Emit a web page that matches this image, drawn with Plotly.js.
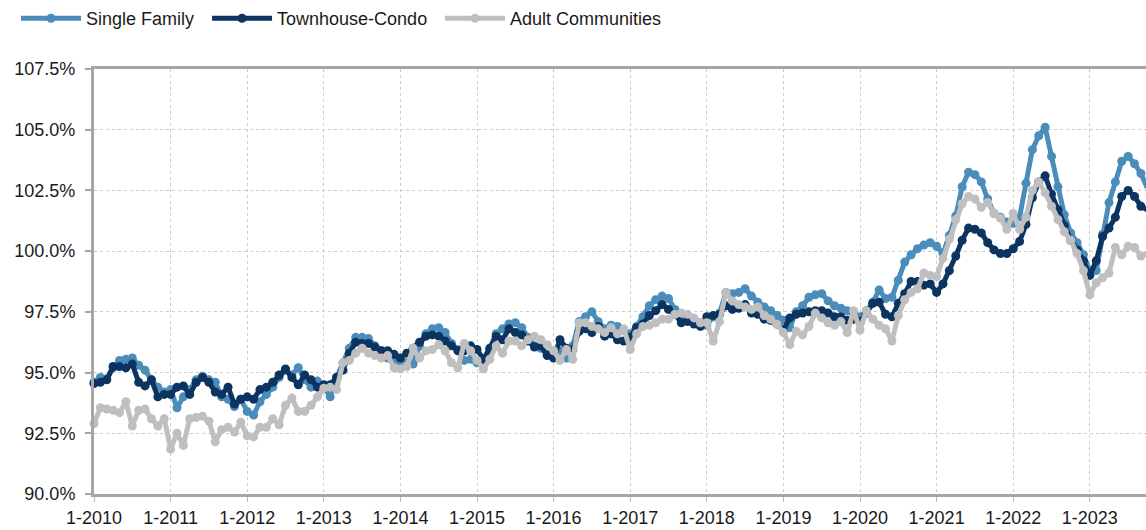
<!DOCTYPE html>
<html>
<head>
<meta charset="utf-8">
<script src="https://cdn.plot.ly/plotly-3.0.1.min.js"></script>
<style>html,body{margin:0;padding:0;background:#fff;}#chart{width:1146px;height:530px;}</style>
</head>
<body>
<div id="chart"></div>
<script>
// Monthly series, Jan-2010 onwards (index 0 = 1-2010)
const singleFamily = [
  94.6, 94.8, 94.75, 95.2, 95.5, 95.55, 95.6, 95.3, 95.1, 94.7, 94.4, 94.2,
  94.3, 93.55, 94.0, 94.3, 94.7, 94.85, 94.7, 94.6, 94.0, 93.9, 93.6, 93.9,
  93.4, 93.25, 93.8, 94.1, 94.4, 94.8, 95.1, 94.9, 95.2, 94.7, 94.4, 94.65,
  94.4, 94.0, 94.8, 95.4, 96.0, 96.45, 96.45, 96.4, 96.1, 95.9, 95.6, 95.5,
  95.45, 95.4, 95.35, 96.1, 96.6, 96.8, 96.85, 96.65, 96.2, 95.95, 95.5, 95.55,
  95.4, 95.4, 95.95, 96.6, 96.8, 97.0, 97.05, 96.85, 96.45, 96.1, 96.0, 95.75,
  95.75, 95.9, 95.6, 96.1, 97.1, 97.3, 97.5, 97.1, 96.8, 96.95, 96.9, 96.75,
  96.6, 96.9, 97.3, 97.75, 98.0, 98.15, 98.05, 97.6, 97.35, 97.2, 97.15, 97.05,
  96.95, 97.3, 97.45, 98.3, 98.25, 98.3, 98.45, 98.15, 97.9, 97.7, 97.55, 97.35,
  97.15, 96.85, 97.5, 97.75, 98.1, 98.2, 98.25, 97.95, 97.75, 97.65, 97.55, 97.4,
  97.3, 97.55, 97.9, 98.4, 98.05, 98.1, 98.8, 99.55, 99.85, 100.1, 100.25, 100.35,
  100.2, 99.9, 100.65, 101.45, 102.65, 103.25, 103.15, 102.85, 102.15, 101.55, 101.4, 101.2,
  101.15, 101.4, 102.8, 104.18, 104.75, 105.1, 103.9, 102.65, 101.5, 100.75, 100.35, 99.85,
  99.2, 99.2, 100.7, 102.0, 102.85, 103.7, 103.9, 103.6, 103.2, 102.6
];
const townhouseCondo = [
  94.55, 94.6, 94.7, 95.25, 95.25, 95.2, 95.35, 94.6, 94.45, 94.7, 94.0, 94.1,
  94.1, 94.4, 94.45, 94.1, 94.6, 94.8, 94.6, 94.2, 94.1, 94.4, 93.7, 93.9,
  94.0, 93.9, 94.3, 94.4, 94.6, 94.9, 95.15, 94.8, 94.5, 94.9, 94.7, 94.4,
  94.5, 94.5, 94.8, 95.1, 95.8, 96.25, 96.2, 96.2, 96.05, 95.9, 95.9, 95.75,
  95.6, 95.8, 96.0, 96.25, 96.5, 96.55, 96.5, 96.3, 96.1, 95.9, 95.9, 96.1,
  95.95, 95.55, 96.0, 96.5, 96.35, 96.8, 96.65, 96.55, 96.3, 96.05, 96.1, 95.7,
  95.6, 96.35, 96.0, 95.95, 96.7, 96.8, 96.65, 96.9, 96.5, 96.6, 96.35, 96.3,
  96.45, 96.85, 97.0, 97.35, 97.55, 97.8, 97.6, 97.4, 97.05, 97.1, 97.0, 96.9,
  97.3, 97.35, 97.4, 97.75, 97.6, 97.65, 97.8, 97.45, 97.4, 97.2, 97.15, 97.0,
  96.75, 97.25, 97.4, 97.45, 97.5, 97.55, 97.55, 97.45, 97.3, 97.3, 97.15, 97.2,
  97.1, 97.45, 97.85, 97.9, 97.4, 97.3, 97.85, 98.25, 98.75, 98.75, 98.6, 98.65,
  98.3, 98.65, 99.2, 99.8, 100.45, 100.95, 100.9, 100.75, 100.35, 100.05, 99.9, 99.9,
  100.1, 100.4, 101.1, 102.2, 102.85, 103.1, 102.35, 101.7, 101.05, 100.45, 100.05, 99.6,
  99.0, 99.6, 100.6, 100.95, 101.4, 102.25, 102.5, 102.25, 101.85, 101.7
];
const adultCommunities = [
  92.9, 93.55, 93.5, 93.45, 93.35, 93.8, 92.8, 93.45, 93.5, 93.1, 92.8, 93.1,
  91.85, 92.5, 92.0, 93.1, 93.15, 93.2, 93.0, 92.15, 92.65, 92.75, 92.55, 92.95,
  92.4, 92.35, 92.75, 92.75, 93.1, 92.85, 93.65, 93.95, 93.4, 93.4, 93.65, 94.0,
  94.35, 94.4, 94.3, 95.4, 95.5, 95.8, 96.0, 95.8, 95.7, 95.6, 95.7, 95.2,
  95.15, 95.25, 96.0, 95.6, 95.9, 95.95, 96.15, 95.9, 95.4, 95.2, 96.2, 95.9,
  95.5, 95.15, 95.55, 96.1, 95.8, 96.3, 96.3, 96.1, 96.35, 96.5, 96.35, 96.15,
  95.9, 95.5, 95.95, 95.55, 97.05, 97.05, 96.9, 96.8, 96.65, 96.85, 96.6, 96.8,
  95.95, 96.6, 96.9, 96.95, 97.05, 97.2, 97.2, 97.4, 97.45, 97.4, 97.25, 97.05,
  97.05, 96.3, 97.1, 98.3, 97.95, 97.8, 97.7, 97.6, 97.7, 97.35, 97.2, 97.0,
  96.65, 96.15, 96.7, 96.55, 96.9, 97.45, 97.25, 97.05, 96.95, 97.1, 96.65, 97.55,
  96.75, 97.55, 97.2, 96.95, 96.8, 96.3, 97.35, 98.0, 98.3, 98.45, 99.1, 99.0,
  98.95, 99.7, 100.5, 101.3, 101.95, 102.25, 102.15, 101.8, 102.0, 101.55, 101.35, 100.9,
  101.55, 100.9, 101.4, 102.5, 102.85, 102.4, 101.85, 101.3, 100.8, 100.45, 99.9, 99.2,
  98.2, 98.7, 98.9, 99.1, 100.15, 99.85, 100.2, 100.15, 99.8, 99.9
];
const yearLabels = ['1-2010','1-2011','1-2012','1-2013','1-2014','1-2015','1-2016',
                    '1-2017','1-2018','1-2019','1-2020','1-2021','1-2022','1-2023'];
const yTicks = [90, 92.5, 95, 97.5, 100, 102.5, 105, 107.5];

const monthIndex = singleFamily.map((_, i) => i);
const yearTickVals = yearLabels.map((_, i) => i * 12);

const FONT = 'Liberation Sans, Arial, Helvetica, sans-serif';
function series(name, vals, color, lw) {
  return {
    type: 'scatter', mode: 'lines+markers', name: name,
    x: monthIndex, y: vals,
    line: {color: color, width: 5},
    marker: {color: color, size: 9},
    cliponaxis: false,
    legendwidth: lw
  };
}
const data = [
  series('Single Family', singleFamily, '#4A8DBA', 116),
  series('Townhouse-Condo', townhouseCondo, '#0B3461', 158),
  series('Adult Communities', adultCommunities, '#BFBFBF', 160)
];
const layout = {
  width: 1146, height: 530,
  margin: {l: 94, r: 0, t: 69, b: 36},
  paper_bgcolor: '#ffffff', plot_bgcolor: '#ffffff',
  font: {family: FONT, size: 18, color: '#1a1a1a'},
  showlegend: true,
  legend: {
    orientation: 'h', xref: 'container', yref: 'container',
    x: 0.014, y: 1, xanchor: 'left', yanchor: 'top',
    font: {family: FONT, size: 18, color: '#1a1a1a'},
    itemwidth: 60, bgcolor: 'rgba(0,0,0,0)'
  },
  xaxis: {
    range: [0, 164.8],
    tickmode: 'array', tickvals: yearTickVals, ticktext: yearLabels,
    showgrid: true, gridcolor: '#CCCCCC', griddash: 'dot', gridwidth: 1,
    showline: true, linecolor: '#A6A6A6', linewidth: 3, mirror: true,
    ticks: 'outside', ticklen: 5, tickcolor: '#BBBBBB', tickwidth: 1,
    ticklabelstandoff: 0,
    zeroline: false,
    tickfont: {family: FONT, size: 18, color: '#1a1a1a'}
  },
  yaxis: {
    range: [90, 107.5],
    tickmode: 'array', tickvals: yTicks,
    ticktext: yTicks.map(v => v.toFixed(1) + '%'),
    showgrid: true, gridcolor: '#CCCCCC', griddash: 'dot', gridwidth: 1,
    showline: true, linecolor: '#A6A6A6', linewidth: 3,
    ticks: 'outside', ticklen: 6, tickcolor: '#A6A6A6', tickwidth: 2,
    ticklabelstandoff: 6,
    zeroline: false,
    tickfont: {family: FONT, size: 18, color: '#1a1a1a'}
  }
};
Plotly.newPlot('chart', data, layout, {displayModeBar: false, staticPlot: true});
</script>
</body>
</html>
